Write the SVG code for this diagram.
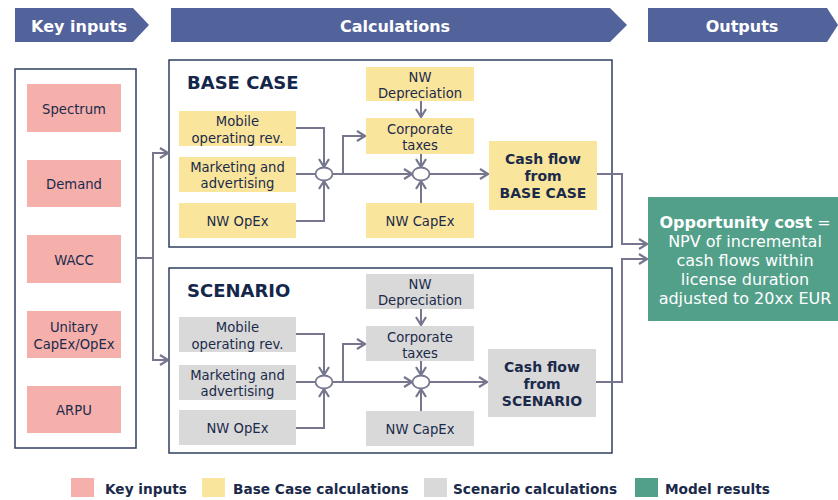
<svg xmlns="http://www.w3.org/2000/svg" width="838" height="500" viewBox="0 0 838 500">
<defs>
<style>
text{font-family:"DejaVu Sans","Verdana",sans-serif;fill:#1b2a4a;text-anchor:middle}
.hdr{fill:#52629b}
.hdrt{fill:#fff;font-weight:bold;font-size:16px}
.panel{fill:#fff;stroke:#2f3f5f;stroke-width:1.5}
.key{fill:#f5b0ac}
.base{fill:#fae59d}
.scen{fill:#d9d9d9}
.res{fill:#52a08a}
.n{font-size:13.2px}
.b{font-weight:bold;font-size:14px}
.title{font-weight:bold;font-size:18px;text-anchor:start;fill:#14264a}
.lg{font-weight:bold;font-size:13.7px;text-anchor:start}
.c{fill:none;stroke:#76768f;stroke-width:2}
.a{marker-end:url(#arr)}
.circ{fill:#fff;stroke:#76768f;stroke-width:1.8}
.out{fill:#fff;font-size:16px}
</style>
<marker id="arr" markerUnits="userSpaceOnUse" viewBox="0 0 10 12" markerWidth="10" markerHeight="12" refX="9" refY="6" orient="auto">
<path d="M1,1 L9,6 L1,11" fill="none" stroke="#76768f" stroke-width="2.2"/>
</marker>
</defs>

<g id="headers">
<polygon class="hdr" points="15,8 133,8 149,25 133,42 15,42"/>
<text class="hdrt" x="79" y="31.5">Key inputs</text>
<polygon class="hdr" points="171,8 610,8 627,25 610,42 171,42"/>
<text class="hdrt" x="395" y="31.5">Calculations</text>
<polygon class="hdr" points="648,8 827,8 838,25 827,42 648,42"/>
<text class="hdrt" x="742" y="31.5">Outputs</text>
</g>

<g id="key-inputs">
<rect class="panel" x="15" y="69" width="121" height="379"/>
<g id="spectrum"><rect class="key" x="27" y="84" width="94" height="48"/><text class="n" x="74" y="114">Spectrum</text></g>
<g id="demand"><rect class="key" x="27" y="160" width="94" height="47"/><text class="n" x="74" y="189">Demand</text></g>
<g id="wacc"><rect class="key" x="27" y="235" width="94" height="48"/><text class="n" x="74" y="264.5">WACC</text></g>
<g id="unitary"><rect class="key" x="27" y="311" width="94" height="47"/><text class="n" x="74" y="331.5">Unitary</text><text class="n" x="74" y="348.5">CapEx/OpEx</text></g>
<g id="arpu"><rect class="key" x="27" y="386" width="94" height="47"/><text class="n" x="74" y="414.5">ARPU</text></g>
</g>

<g id="base-case">
<rect class="panel" x="169" y="60" width="443" height="187"/>
<text class="title" x="187" y="89">BASE CASE</text>
<g id="b-mobile"><rect class="base" x="179" y="111" width="117" height="35"/><text class="n" x="237.5" y="126">Mobile</text><text class="n" x="237.5" y="142.5">operating rev.</text></g>
<g id="b-marketing"><rect class="base" x="179" y="157" width="117" height="35"/><text class="n" x="237.5" y="172">Marketing and</text><text class="n" x="237.5" y="188">advertising</text></g>
<g id="b-opex"><rect class="base" x="179" y="203" width="117" height="35"/><text class="n" x="237.5" y="225.5">NW OpEx</text></g>
<g id="b-dep"><rect class="base" x="366" y="67" width="108" height="34"/><text class="n" x="420" y="81.5">NW</text><text class="n" x="420" y="97.5">Depreciation</text></g>
<g id="b-tax"><rect class="base" x="366" y="118" width="108" height="36"/><text class="n" x="420" y="133.5">Corporate</text><text class="n" x="420" y="149.5">taxes</text></g>
<g id="b-capex"><rect class="base" x="366" y="203" width="108" height="35"/><text class="n" x="420" y="225.5">NW CapEx</text></g>
<g id="b-cash"><rect class="base" x="489" y="141" width="108" height="69"/><text class="b" x="543" y="164">Cash flow</text><text class="b" x="543" y="181">from</text><text class="b" x="543" y="198">BASE CASE</text></g>
<ellipse id="b-sum1" class="circ" cx="324" cy="174" rx="8.5" ry="6.5"/>
<ellipse id="b-sum2" class="circ" cx="421" cy="174" rx="8.5" ry="6.5"/>
</g>

<g id="scenario">
<rect class="panel" x="169" y="268" width="443" height="185"/>
<text class="title" x="187" y="297">SCENARIO</text>
<g id="s-mobile"><rect class="scen" x="179" y="317" width="117" height="35"/><text class="n" x="237.5" y="332">Mobile</text><text class="n" x="237.5" y="348.5">operating rev.</text></g>
<g id="s-marketing"><rect class="scen" x="179" y="365" width="117" height="35"/><text class="n" x="237.5" y="380">Marketing and</text><text class="n" x="237.5" y="396">advertising</text></g>
<g id="s-opex"><rect class="scen" x="179" y="410" width="117" height="35"/><text class="n" x="237.5" y="432.5">NW OpEx</text></g>
<g id="s-dep"><rect class="scen" x="366" y="274" width="108" height="35"/><text class="n" x="420" y="289">NW</text><text class="n" x="420" y="305">Depreciation</text></g>
<g id="s-tax"><rect class="scen" x="366" y="326" width="108" height="35"/><text class="n" x="420" y="341.5">Corporate</text><text class="n" x="420" y="357.5">taxes</text></g>
<g id="s-capex"><rect class="scen" x="366" y="411" width="108" height="35"/><text class="n" x="420" y="433.5">NW CapEx</text></g>
<g id="s-cash"><rect class="scen" x="488" y="349" width="108" height="68"/><text class="b" x="542" y="372">Cash flow</text><text class="b" x="542" y="389">from</text><text class="b" x="542" y="406">SCENARIO</text></g>
<ellipse id="s-sum1" class="circ" cx="324" cy="382" rx="8.5" ry="6.5"/>
<ellipse id="s-sum2" class="circ" cx="421" cy="382" rx="8.5" ry="6.5"/>
</g>

<g id="output">
<rect class="res" x="648" y="197" width="190" height="124"/>
<text class="out" x="745" y="228"><tspan font-weight="bold">Opportunity cost</tspan> =</text>
<text class="out" x="745" y="247">NPV of incremental</text>
<text class="out" x="745" y="266">cash flows within</text>
<text class="out" x="745" y="285">license duration</text>
<text class="out" x="745" y="304">adjusted to 20xx EUR</text>
</g>

<g id="connectors">
<path class="c" d="M136,258 H153 M153,153 V360"/>
<path class="c a" d="M152,153 H168"/>
<path class="c a" d="M152,360 H168"/>
<path class="c a" d="M296,128 H324 V167"/>
<path class="c" d="M296,174 H315.5"/>
<path class="c a" d="M296,221 H324 V181"/>
<path class="c a" d="M332.5,174 H412"/>
<path class="c a" d="M343,174 V136 H365"/>
<path class="c a" d="M421,101 V117"/>
<path class="c a" d="M421,154 V167"/>
<path class="c a" d="M421,203 V181"/>
<path class="c a" d="M429.5,174 H488"/>
<path class="c a" d="M597,174 H622 V244 H647"/>
<path class="c a" d="M296,334 H324 V375"/>
<path class="c" d="M296,382 H315.5"/>
<path class="c a" d="M296,428 H324 V389"/>
<path class="c a" d="M332.5,382 H412"/>
<path class="c a" d="M343,382 V344 H365"/>
<path class="c a" d="M421,309 V325"/>
<path class="c a" d="M421,361 V375"/>
<path class="c a" d="M421,411 V389"/>
<path class="c a" d="M429.5,382 H487"/>
<path class="c a" d="M596,382 H622 V259 H647"/>
</g>

<g id="legend">
<rect class="key" x="71" y="478" width="23" height="19"/>
<text class="lg" x="105" y="494">Key inputs</text>
<rect class="base" x="202" y="478" width="23" height="19"/>
<text class="lg" x="233" y="494">Base Case calculations</text>
<rect class="scen" x="424" y="478" width="23" height="19"/>
<text class="lg" x="453" y="494">Scenario calculations</text>
<rect class="res" x="635" y="478" width="23" height="19"/>
<text class="lg" x="665" y="494">Model results</text>
</g>
</svg>
